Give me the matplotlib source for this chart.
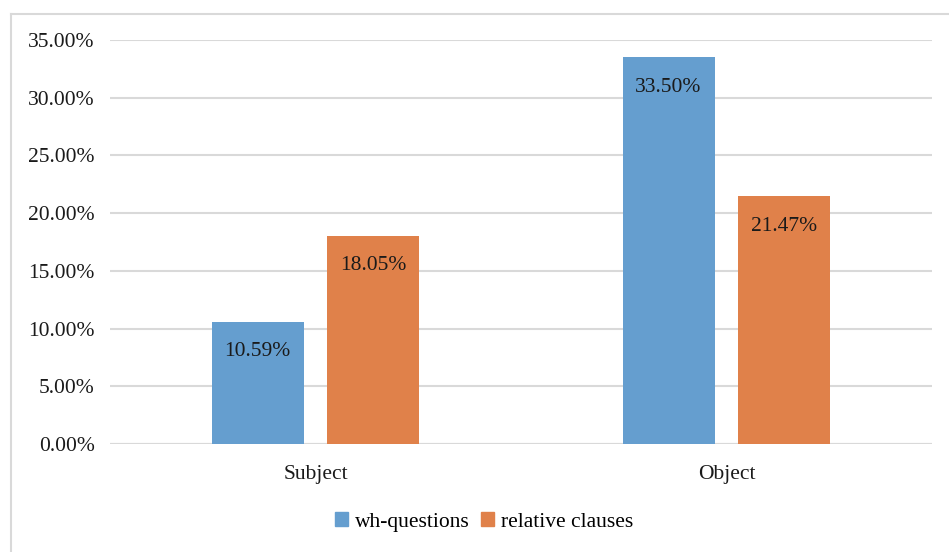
import matplotlib.pyplot as plt
from matplotlib.lines import Line2D
from matplotlib.patches import Patch
import numpy as np

categories = ["Subject", "Object"]
wh_questions = [10.59, 33.50]
relative_clauses = [18.05, 21.47]
y_ticks = [0, 5, 10, 15, 20, 25, 30, 35]

blue = "#659ECF"
orange = "#E0814A"
grid_gray = "#D9D9D9"

plt.rcParams["font.family"] = ["Liberation Serif", "DejaVu Serif"]

W, H = 949, 552
fig = plt.figure(figsize=(W / 100, H / 100), dpi=100)

# plot area in pixels: x 110..932, y 40 (35%) .. 444 (0%)
ax = fig.add_axes([110 / W, 1 - 444 / H, 822 / W, (444 - 40) / H])

x = np.arange(len(categories))
bar_w = 0.224
offset = 0.141
fs = 15.5

b1 = ax.bar(x - offset, wh_questions, bar_w, color=blue, zorder=3)
b2 = ax.bar(x + offset, relative_clauses, bar_w, color=orange, zorder=3)

for bars, vals in ((b1, wh_questions), (b2, relative_clauses)):
    for bar, v in zip(bars, vals):
        ax.annotate(f"{v:.2f}%", (bar.get_x() + bar.get_width() / 2, v),
                    xytext=(0, -21.5), textcoords="offset points",
                    ha="center", va="center", fontsize=fs, color="#1a1a1a", zorder=4)

ax.set_xlim(-0.5, 1.5)
ax.set_ylim(0, 35)
ax.set_yticks(y_ticks)
ax.set_yticklabels([f"{t:.2f}%" for t in y_ticks])
ax.set_xticks(x)
ax.set_xticklabels(categories)
ax.tick_params(axis="both", length=0, labelsize=fs, colors="#1a1a1a")
ax.tick_params(axis="y", pad=11)
ax.tick_params(axis="x", pad=15)
ax.yaxis.grid(True, color=grid_gray, linewidth=1.5, zorder=0)
for s in ax.spines.values():
    s.set_visible(False)
ax.axhline(0, color=grid_gray, linewidth=1.5, zorder=2)

handles = [Patch(color=blue, label="wh-questions"),
           Patch(color=orange, label="relative clauses")]
fig.legend(handles=handles, loc="center", bbox_to_anchor=(484 / W, 1 - 522 / H),
           ncol=2, frameon=False, fontsize=fs, handlelength=0.6, handleheight=0.6,
           handletextpad=0.35, columnspacing=0.5)

# outer chart frame (top and left edges)
fig.add_artist(Line2D([11 / W, 1], [1 - 14 / H, 1 - 14 / H], transform=fig.transFigure,
                      color=grid_gray, linewidth=1.5))
fig.add_artist(Line2D([11 / W, 11 / W], [0, 1 - 14 / H], transform=fig.transFigure,
                      color=grid_gray, linewidth=1.5))

fig.savefig("out.png", dpi=100)
